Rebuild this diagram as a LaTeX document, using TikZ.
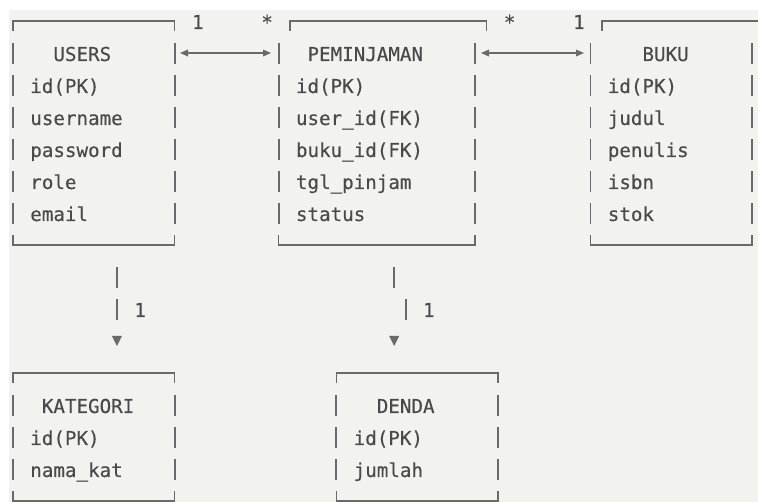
\documentclass[tikz,border=0pt]{standalone}
\usepackage{fontspec}
\newfontfamily\ermono[FakeBold=0.35]{DejaVu Sans Mono}
\usetikzlibrary{arrows.meta,calc}
\definecolor{bg}{HTML}{F2F2EE}
\definecolor{ink}{HTML}{4A4A4A}
\definecolor{rulec}{HTML}{6A6A6A}
\newcommand{\colx}[1]{13+11.55*(#1)}
\newcommand{\cellx}[1]{13+11.55*(#1-0.5)}
\newcommand{\rowy}[1]{21+32*(#1)}
\newcommand{\rowb}[1]{29+32*(#1)}
% ASCII-style table frame: left col, right col, top row, bottom row, top shift
\newcommand{\erframe}[5]{%
  \draw[hline] ({\colx{#1+#5}},{\rowy{#3}+10}) -- ({\colx{#1+#5}},{\rowy{#3}})
     -- ({\colx{#2+#5}},{\rowy{#3}}) -- ({\colx{#2+#5}},{\rowy{#3}+10});
  \pgfmathtruncatemacro\erfirst{#3+1}%
  \pgfmathtruncatemacro\erlast{#4-1}%
  \foreach \r in {\erfirst,...,\erlast}{%
    \draw[vbar] ({\colx{#1}},{\rowy{\r}-10}) -- ++(0,21);
    \draw[vbar] ({\colx{#2}},{\rowy{\r}-10}) -- ++(0,21);
  }
  \draw[hline] ({\colx{#1}},{\rowy{#4}-10}) -- ({\colx{#1}},{\rowy{#4}})
     -- ({\colx{#2}},{\rowy{#4}}) -- ({\colx{#2}},{\rowy{#4}-10});
}
\begin{document}
\begin{tikzpicture}[x=0.75pt,y=-0.75pt,
  txt/.style={anchor=base west, inner sep=0pt, outer sep=0pt,
    font=\ermono\fontsize{14.39pt}{16pt}\selectfont, text=ink},
  vbar/.style={draw=rulec, line width=1.4pt},
  hline/.style={draw=rulec, line width=1.1pt},
  rel/.style={draw=rulec, line width=0.9pt,
    {Triangle[length=6pt,width=5pt]}-{Triangle[length=6pt,width=5pt]}},
  tri/.style={fill=rulec, draw=none},
]
\useasboundingbox (0,0) rectangle (758,502);
\fill[white] (0,0) rectangle (758,502);
\fill[bg] (9,10) rectangle (758,502);

% frames
\erframe{0}{14}{0}{7}{0}
\erframe{23}{40}{0}{7}{1}
\erframe{50}{64}{0}{7}{1}
\erframe{0}{14}{11}{15}{0}
\erframe{28}{42}{11}{15}{0}

% USERS
\node[txt] (uT) at ({\cellx{4}},{\rowb{1}}) {USERS};
\node[txt] (u1) at ({\cellx{2}},{\rowb{2}}) {id(PK)};
\node[txt] (u2) at ({\cellx{2}},{\rowb{3}}) {username};
\node[txt] (u3) at ({\cellx{2}},{\rowb{4}}) {password};
\node[txt] (u4) at ({\cellx{2}},{\rowb{5}}) {role};
\node[txt] (u5) at ({\cellx{2}},{\rowb{6}}) {email};

% PEMINJAMAN
\node[txt] (pT) at ({\cellx{26}},{\rowb{1}}) {PEMINJAMAN};
\node[txt] (p1) at ({\cellx{25}},{\rowb{2}}) {id(PK)};
\node[txt] (p2) at ({\cellx{25}},{\rowb{3}}) {user\_id(FK)};
\node[txt] (p3) at ({\cellx{25}},{\rowb{4}}) {buku\_id(FK)};
\node[txt] (p4) at ({\cellx{25}},{\rowb{5}}) {tgl\_pinjam};
\node[txt] (p5) at ({\cellx{25}},{\rowb{6}}) {status};

% BUKU
\node[txt] (bT) at ({\cellx{55}},{\rowb{1}}) {BUKU};
\node[txt] (b1) at ({\cellx{52}},{\rowb{2}}) {id(PK)};
\node[txt] (b2) at ({\cellx{52}},{\rowb{3}}) {judul};
\node[txt] (b3) at ({\cellx{52}},{\rowb{4}}) {penulis};
\node[txt] (b4) at ({\cellx{52}},{\rowb{5}}) {isbn};
\node[txt] (b5) at ({\cellx{52}},{\rowb{6}}) {stok};

% KATEGORI
\node[txt] (kT) at ({\cellx{3}},{\rowb{12}}) {KATEGORI};
\node[txt] (k1) at ({\cellx{2}},{\rowb{13}}) {id(PK)};
\node[txt] (k2) at ({\cellx{2}},{\rowb{14}}) {nama\_kat};

% DENDA
\node[txt] (dT) at ({\cellx{32}},{\rowb{12}}) {DENDA};
\node[txt] (d1) at ({\cellx{30}},{\rowb{13}}) {id(PK)};
\node[txt] (d2) at ({\cellx{30}},{\rowb{14}}) {jumlah};

% multiplicities
\node[txt] (m1) at ({\cellx{16}},{\rowb{0}}) {1};
\node[txt] (m2) at ({\cellx{22}},{\rowb{0}}) {*};
\node[txt] (m3) at ({\cellx{43}},{\rowb{0}}) {*};
\node[txt] (m4) at ({\cellx{49}},{\rowb{0}}) {1};
\node[txt] (m5) at ({\cellx{11}},{\rowb{9}}) {1};
\node[txt] (m6) at ({\cellx{36}},{\rowb{9}}) {1};

% horizontal relations
\coordinate (r1a) at (180,{\rowy{1}});
\coordinate (r1b) at (271,{\rowy{1}});
\coordinate (r2a) at (481,{\rowy{1}});
\coordinate (r2b) at (584,{\rowy{1}});
\draw[rel] (r1a) -- (r1b);
\draw[rel] (r2a) -- (r2b);

% vertical relations (ASCII style)
\coordinate (v1a) at ({\colx{9}},{\rowy{8}-10});
\coordinate (v1b) at ({\colx{9}},{\rowy{9}-10});
\coordinate (v1c) at ({\colx{9}},{\rowy{10}});
\draw[vbar] (v1a) -- ++(0,21);
\draw[vbar] (v1b) -- ++(0,21);
\fill[tri] ($(v1c)+(-5,-5)$) -- ++(10,0) -- ++(-5,10) -- cycle;

\coordinate (v2a) at ({\colx{33}},{\rowy{8}-10});
\coordinate (v2b) at ({\colx{34}},{\rowy{9}-10});
\coordinate (v2c) at ({\colx{33}},{\rowy{10}});
\draw[vbar] (v2a) -- ++(0,21);
\draw[vbar] (v2b) -- ++(0,21);
\fill[tri] ($(v2c)+(-5,-5)$) -- ++(10,0) -- ++(-5,10) -- cycle;
\end{tikzpicture}
\end{document}
